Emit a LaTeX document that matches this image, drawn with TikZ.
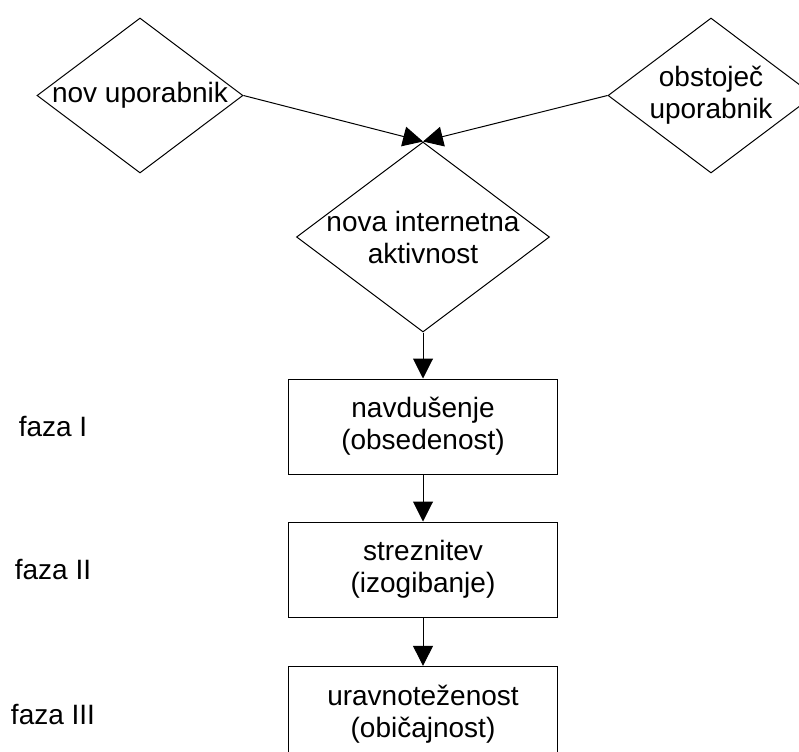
\documentclass[tikz,border=0pt]{standalone}
\usepackage{fontspec}
\setmainfont{Liberation Sans}
\usetikzlibrary{shapes,arrows.meta,positioning}

\begin{document}
\begin{tikzpicture}[x=0.75pt, y=-0.75pt, node distance=35pt, line width=0.75pt,
    >={Triangle[length=15pt,width=15pt]},
    txt/.style={align=center, font=\fontsize{21}{24}\selectfont, inner sep=0pt},
    decision/.style={diamond, draw, inner sep=0pt, minimum width=154.5pt, minimum height=116.25pt},
    phase/.style={rectangle, draw, txt, minimum width=201.75pt, minimum height=71.5pt}]
        \useasboundingbox (0,0) rectangle (799,751);
        \clip (0,0) rectangle (799,751);

        % users
        \node [decision, label={[txt]center:nov uporabnik}] (novi) at (140,95.5) {};
        \node [decision, label={[txt]center:obstoječ\\uporabnik}] (obstojeci) at (711,95.5) {};
        \node [decision, minimum width=189.75pt, minimum height=142.5pt,
            label={[txt]center:nova internetna\\aktivnost}] (aktivnost) at (423,237) {};

        % phases
        \node [phase, below=34.5pt of aktivnost] (navdusenje) {navdušenje\\(obsedenost)};
        \node [phase, below=of navdusenje] (streznitev) {streznitev\\(izogibanje)};
        \node [phase, below=36pt of streznitev] (uravnotezenost) {uravnoteženost\\(običajnost)};

        \node [txt] (fazaI) at (53,0 |- navdusenje) {faza I};
        \node [txt] (fazaII) at (53,0 |- streznitev) {faza II};
        \node [txt] (fazaIII) at (53,0 |- uravnotezenost) {faza III};

        \draw [->] (novi.east) -- (aktivnost.north);
        \draw [->] (obstojeci.west) -- (aktivnost.north);
        \draw [->] (aktivnost) -- (navdusenje);
        \draw [->] (navdusenje) -- (streznitev);
        \draw [->] (streznitev) -- (uravnotezenost);
    \end{tikzpicture}
\end{document}
